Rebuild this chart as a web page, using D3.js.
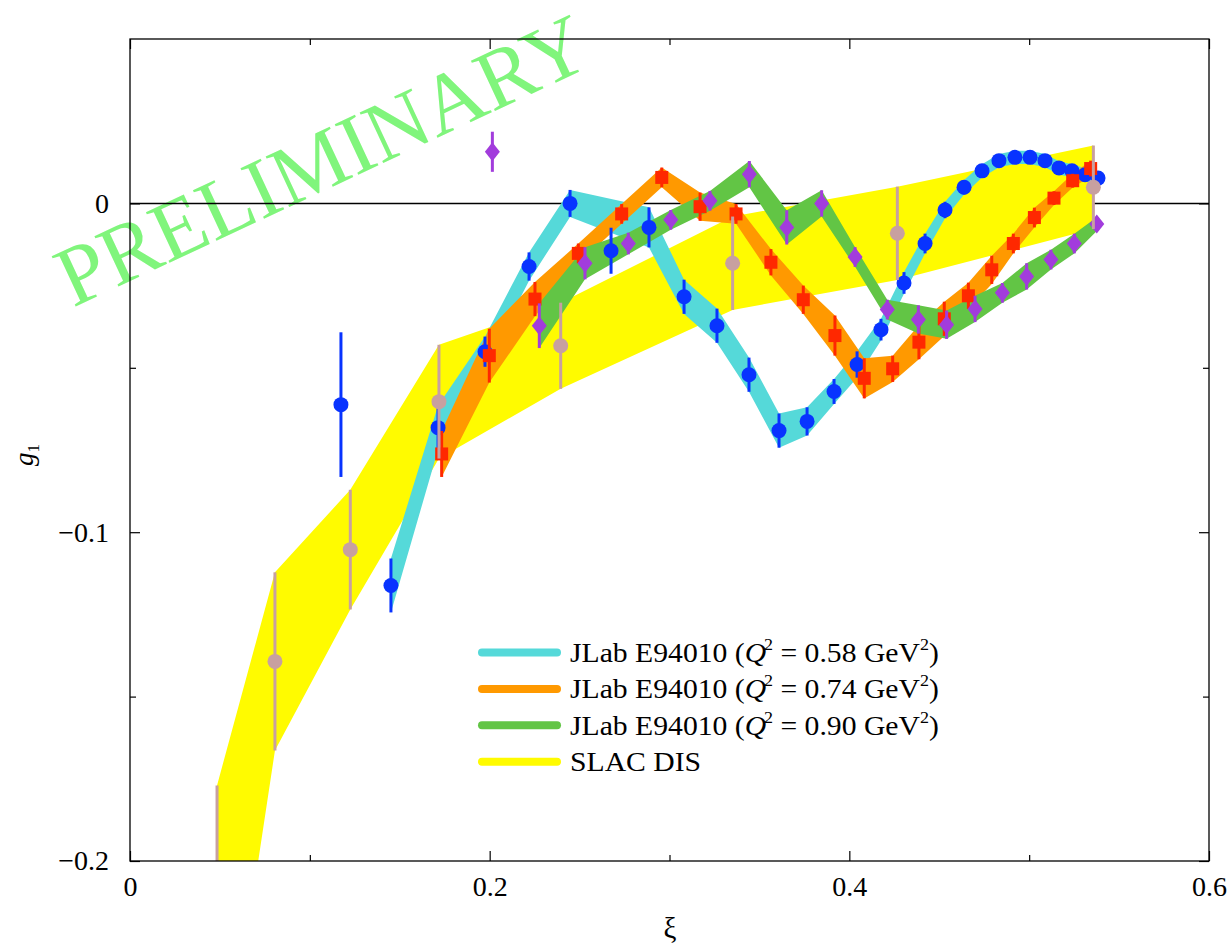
<!DOCTYPE html>
<html><head><meta charset="utf-8">
<script src="https://cdn.jsdelivr.net/npm/d3@7"></script>
<style>
body{margin:0;background:#fff}
svg{display:block}
text{font-family:"Liberation Serif","Times New Roman",serif}
</style></head>
<body><svg id="c" width="1232" height="945"></svg>
<script>
// ---------------- DATA ----------------
// JLab E94010, Q^2 = 0.58 GeV^2 (blue circles, cyan band)
const xi058 = [0.1173,0.1451,0.1713,0.1974,0.2219,0.2447,0.2675,0.2886,0.3081,0.3264,0.3442,0.3609,0.3765,0.3915,0.4043,0.4176,0.4304,0.4421,0.4532,0.4638,0.4738,0.4832,0.4921,0.5005,0.5088,0.5166,0.5238,0.5311,0.5383];
const g1_058 = [-0.0612,-0.1162,-0.0682,-0.0451,-0.0192,0.0000,-0.0144,-0.0073,-0.0284,-0.0372,-0.0521,-0.0691,-0.0663,-0.0572,-0.0490,-0.0384,-0.0242,-0.0122,-0.0020,0.0049,0.0099,0.0130,0.0140,0.0140,0.0130,0.0108,0.0099,0.0087,0.0077];
const err058 = [0.0220,0.0082,0.0067,0.0046,0.0043,0.0041,0.0070,0.0061,0.0052,0.0052,0.0052,0.0052,0.0043,0.0038,0.0040,0.0033,0.0033,0.0030,0.0025,0.0022,0.0020,0.0020,0.0020,0.0020,0.0020,0.0020,0.0020,0.0020,0.0020];
const inBand058 = [0,1,1,1,1,1,0,1,1,1,1,1,1,1,1,1,1,1,1,1,1,1,1,1,1,1,1,1,1];

// JLab E94010, Q^2 = 0.74 GeV^2 (red squares, orange band)
const xi074 = [0.1733,0.1998,0.2252,0.2493,0.2734,0.2957,0.3170,0.3370,0.3564,0.3744,0.3920,0.4083,0.4241,0.4387,0.4528,0.4662,0.4792,0.4912,0.5029,0.5138,0.5242,0.5342];
const g1_074 = [-0.0762,-0.0463,-0.0291,-0.0152,-0.0032,0.0079,-0.0010,-0.0032,-0.0179,-0.0293,-0.0402,-0.0532,-0.0503,-0.0422,-0.0351,-0.0281,-0.0202,-0.0122,-0.0043,0.0016,0.0069,0.0106];
const err074 = [0.0070,0.0082,0.0052,0.0030,0.0030,0.0030,0.0043,0.0030,0.0040,0.0043,0.0061,0.0061,0.0040,0.0052,0.0052,0.0040,0.0043,0.0030,0.0030,0.0021,0.0021,0.0024];

// JLab E94010, Q^2 = 0.90 GeV^2 (purple diamonds, green band)
const xi090 = [0.2015,0.2276,0.2530,0.2771,0.3007,0.3225,0.3444,0.3652,0.3846,0.4032,0.4211,0.4384,0.4541,0.4699,0.4851,0.4986,0.5121,0.5251,0.5376];
const g1_090 = [0.0157,-0.0372,-0.0182,-0.0122,-0.0050,0.0008,0.0089,-0.0073,0.0000,-0.0163,-0.0323,-0.0353,-0.0369,-0.0321,-0.0272,-0.0222,-0.0171,-0.0122,-0.0063];
const err090 = [0.0061,0.0068,0.0049,0.0033,0.0030,0.0030,0.0040,0.0052,0.0040,0.0030,0.0030,0.0043,0.0043,0.0040,0.0030,0.0040,0.0030,0.0030,0.0021];
const inBand090 = [0,1,1,1,1,1,1,1,1,1,1,1,1,1,1,1,1,1,1];

// SLAC DIS (tan circles, yellow band)
const xiSLAC = [0.0484,0.0806,0.1225,0.1718,0.2395,0.3351,0.4267,0.5357];
const g1SLAC = [-0.2299,-0.1393,-0.1053,-0.0603,-0.0433,-0.0182,-0.0091,0.0049];
const errSLAC = [0.0529,0.0271,0.0182,0.0173,0.0131,0.0142,0.0142,0.0127];

// Axes
const xMajor = [0,0.2,0.4,0.6];
const xTickLabels = ["0","0.2","0.4","0.6"];
const xMinor = [0.1,0.3,0.5];
const yMajor = [-0.2,-0.1,0];
const yTickLabels = ["\u22120.2","\u22120.1","0"];
const yMinor = [-0.15,-0.05];

const legendQ2 = ["0.58","0.74","0.90"];
const legendColors = ["#55d9d9","#ff9900","#62c545","#fffb00"];

// ---------------- CHART ----------------
const FONT = '"Liberation Serif","Times New Roman",serif';
const svg = d3.select('#c');
const x = d3.scaleLinear().domain([0,0.6]).range([130,1209]);
const y = d3.scaleLinear().domain([-0.2,0.05]).range([861,39]);

svg.append('defs').append('clipPath').attr('id','clip')
  .append('rect').attr('x',x(0)).attr('y',y(0.05)).attr('width',x(0.6)-x(0)).attr('height',y(-0.2)-y(0.05));

// watermark
svg.append('text')
  .attr('transform','translate(334,186) rotate(-25)')
  .attr('text-anchor','middle')
  .attr('font-size',85)
  .attr('fill','#80f57c')
  .text('PRELIMINARY');

const plot = svg.append('g').attr('clip-path','url(#clip)');

plot.append('line')
  .attr('x1',x(0)).attr('x2',x(0.6)).attr('y1',y(0)).attr('y2',y(0))
  .attr('stroke','#000').attr('stroke-width',1.5);

const mk = (xs,ys,es) => xs.map((v,i)=>({x:v,y:ys[i],e:es[i]}));
const s058 = mk(xi058,g1_058,err058);
const s074 = mk(xi074,g1_074,err074);
const s090 = mk(xi090,g1_090,err090);
const sSL = mk(xiSLAC,g1SLAC,errSLAC);

const area = d3.area().x(d=>x(d.x)).y0(d=>y(d.y-d.e)).y1(d=>y(d.y+d.e));

plot.append('path').datum(sSL).attr('d',area).attr('fill',legendColors[3]);
plot.append('path').datum(s058.filter((d,i)=>inBand058[i])).attr('d',area).attr('fill',legendColors[0]);
plot.append('path').datum(s074).attr('d',area).attr('fill',legendColors[1]);
plot.append('path').datum(s090.filter((d,i)=>inBand090[i])).attr('d',area).attr('fill',legendColors[2]);

function errbars(data,color){
  plot.append('g').selectAll('line').data(data).join('line')
    .attr('x1',d=>x(d.x)).attr('x2',d=>x(d.x))
    .attr('y1',d=>y(d.y-d.e)).attr('y2',d=>y(d.y+d.e))
    .attr('stroke',color).attr('stroke-width',3);
}
// blue circles
errbars(s058,'#0833ff');
plot.append('g').selectAll('circle').data(s058).join('circle')
  .attr('cx',d=>x(d.x)).attr('cy',d=>y(d.y)).attr('r',7.5).attr('fill','#0833ff');
// red squares
errbars(s074,'#ff2800');
plot.append('g').selectAll('rect').data(s074).join('rect')
  .attr('x',d=>x(d.x)-6.5).attr('y',d=>y(d.y)-6.5).attr('width',13).attr('height',13).attr('fill','#ff2800');
// purple diamonds
errbars(s090,'#a23cdc');
plot.append('g').selectAll('path').data(s090).join('path')
  .attr('transform',d=>`translate(${x(d.x)},${y(d.y)})`)
  .attr('d','M0,-9.5L7.5,0L0,9.5L-7.5,0Z').attr('fill','#a23cdc');
// tan circles
errbars(sSL,'#c8a0a0');
plot.append('g').selectAll('circle').data(sSL).join('circle')
  .attr('cx',d=>x(d.x)).attr('cy',d=>y(d.y)).attr('r',7.5).attr('fill','#c8a0a0');

// axes
function ax(gen,tx,ty){
  const g = svg.append('g').attr('transform',`translate(${tx},${ty})`).call(gen);
  g.select('.domain').remove();
  g.selectAll('line').attr('stroke','#000').attr('stroke-width',1.2);
  g.selectAll('text').attr('font-size',28).attr('fill','#000').attr('font-family',FONT);
  return g;
}
ax(d3.axisBottom(x).tickValues(xMajor).tickFormat((d,i)=>xTickLabels[i]).tickSize(-10).tickPadding(15),0,y(-0.2));
ax(d3.axisBottom(x).tickValues(xMinor).tickFormat('').tickSize(-6),0,y(-0.2));
ax(d3.axisTop(x).tickValues(xMajor).tickFormat('').tickSize(-10),0,y(0.05));
ax(d3.axisTop(x).tickValues(xMinor).tickFormat('').tickSize(-6),0,y(0.05));
ax(d3.axisLeft(y).tickValues(yMajor).tickFormat((d,i)=>yTickLabels[i]).tickSize(-10).tickPadding(21),x(0),0);
ax(d3.axisLeft(y).tickValues(yMinor).tickFormat('').tickSize(-6),x(0),0);
ax(d3.axisRight(y).tickValues(yMajor).tickFormat('').tickSize(-10),x(0.6),0);
ax(d3.axisRight(y).tickValues(yMinor).tickFormat('').tickSize(-6),x(0.6),0);

svg.append('rect').attr('x',x(0)).attr('y',y(0.05)).attr('width',x(0.6)-x(0)).attr('height',y(-0.2)-y(0.05))
  .attr('fill','none').attr('stroke','#000').attr('stroke-width',1.3);

// axis titles
svg.append('text').attr('x',670).attr('y',938).attr('text-anchor','middle').attr('font-size',29).text('\u03BE');
const yl = svg.append('text').attr('transform','translate(33,455) rotate(-90)').attr('text-anchor','middle').attr('font-size',27);
yl.append('tspan').attr('font-style','italic').text('g');
yl.append('tspan').attr('font-size',17).attr('dy',6).text('1');

// legend
const lg = svg.append('g');
const rows = [0,1,2,3];
rows.forEach(i=>{
  const by = 662 + i*36.4;
  lg.append('line').attr('x1',482).attr('x2',557).attr('y1',by-9.5).attr('y2',by-9.5)
    .attr('stroke',legendColors[i]).attr('stroke-width',8).attr('stroke-linecap','round');
  const t = lg.append('text').attr('transform',`translate(570,${by}) scale(1.06,1)`).attr('font-size',28);
  if(i<3){
    t.append('tspan').text('JLab E94010 (');
    t.append('tspan').attr('font-style','italic').text('Q');
    t.append('tspan').attr('font-size',17).attr('dy',-12).attr('dx',-2).text('2');
    t.append('tspan').attr('dy',12).text(' = ' + legendQ2[i] + ' GeV');
    t.append('tspan').attr('font-size',17).attr('dy',-12).text('2');
    t.append('tspan').attr('dy',12).text(')');
  } else {
    t.text('SLAC DIS');
  }
});
</script></body></html>
